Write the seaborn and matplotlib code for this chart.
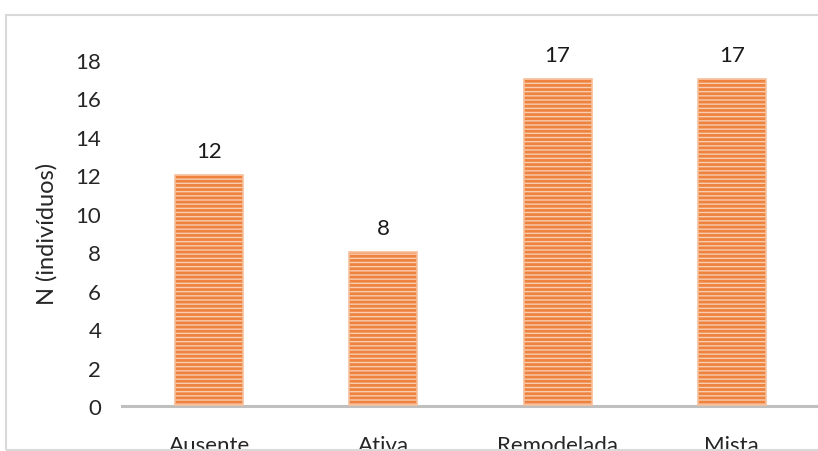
import matplotlib
matplotlib.use("Agg")
import matplotlib.pyplot as plt
import matplotlib.patches as mpatches
import seaborn as sns
import pandas as pd

categorias = ["Ausente", "Ativa", "Remodelada", "Mista"]
individuos = [12, 8, 17, 17]
yticks = [0, 2, 4, 6, 8, 10, 12, 14, 16, 18]

sns.set_theme(style="white")
plt.rcParams["font.family"] = ["Lato", "DejaVu Sans"]
plt.rcParams["hatch.linewidth"] = 2.0

W, H = 818, 452
fig = plt.figure(figsize=(W / 100, H / 100), dpi=100)

# chart frame (area extends past the right and bottom edge)
fig.patches.append(mpatches.Rectangle((5.5 / W, 1 - 450.5 / H), (W + 10) / W, (450.5 - 16) / H,
                                      transform=fig.transFigure, fill=False,
                                      edgecolor="#D9D9D9", linewidth=1.5, zorder=0))

ax = fig.add_axes([122 / W, (H - 407) / H, (819 - 122) / W, (407 - 61) / H])
df = pd.DataFrame({"cat": categorias, "n": individuos})

sns.barplot(data=df, x="cat", y="n", ax=ax, width=0.39, color="#F9CDAF",
            edgecolor="#EE8340", linewidth=0, saturation=1, zorder=2)
for p in ax.patches:
    p.set_hatch("----")
    ax.add_patch(mpatches.Rectangle(p.get_xy(), p.get_width(), p.get_height(),
                                    fill=False, edgecolor="#F6BE98", linewidth=1.2, zorder=3))

for x, v in enumerate(individuos):
    ax.annotate(str(v), (x, v), xytext=(0, 10), textcoords="offset points",
                ha="center", va="bottom", fontsize=16, color="#1A1A1A", clip_on=False)

ax.set_ylim(0, 18)
ax.set_xlim(-0.5, 3.5)
ax.set_yticks(yticks)
ax.set_xlabel("")
ax.set_ylabel("N (indivíduos)", fontsize=17, color="#262626", labelpad=13)
for s in ["top", "right", "left"]:
    ax.spines[s].set_visible(False)
ax.spines["bottom"].set_color("#BFBFBF")
ax.spines["bottom"].set_linewidth(2.2)
ax.tick_params(axis="y", length=0, pad=15, labelsize=16, labelcolor="#262626")
ax.tick_params(axis="x", length=0, pad=21, labelsize=16, labelcolor="#262626")
ax.grid(False)

fig.savefig("out.png", dpi=100)
